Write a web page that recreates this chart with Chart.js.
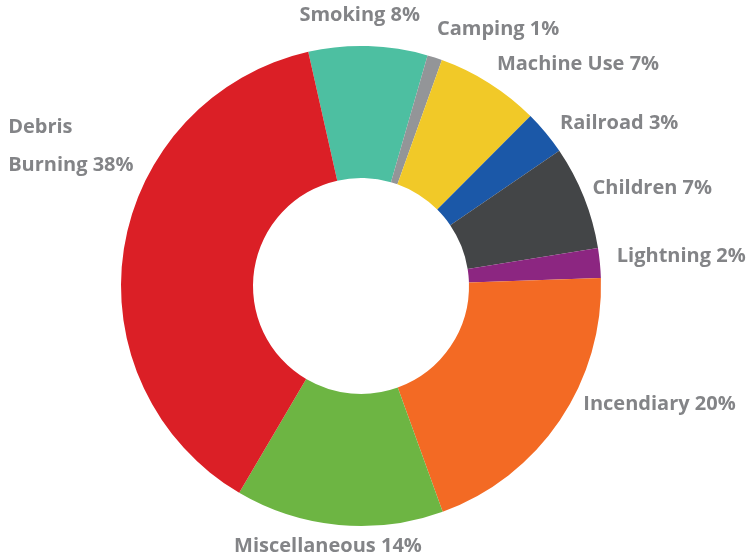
<!DOCTYPE html>
<html>
<head>
<meta charset="utf-8">
<script src="https://cdn.jsdelivr.net/npm/chart.js@4.4.1/dist/chart.umd.min.js"></script>
<style>
    html, body { margin: 0; padding: 0; background: #fff; }
    #wrap { width: 746px; height: 559px; }
</style>
</head>
<body>
<div id="wrap"><canvas id="causesChart" width="746" height="559"></canvas></div>
<script>
// ==================== DATA ====================
const causes = ['Smoking', 'Camping', 'Machine Use', 'Railroad', 'Children', 'Lightning', 'Incendiary', 'Miscellaneous', 'Debris Burning'];
const shares = [8, 1, 7, 3, 7, 2, 20, 14, 38];
const sliceColors = ['#4dbfa1', '#939598', '#f1c928', '#1b58a8', '#434547', '#8c2681', '#f36a24', '#6db543', '#db1f26'];

// label text lines, and where each label sits relative to its slice
const labelLines = [
    ['Smoking 8%'], ['Camping 1%'], ['Machine Use 7%'], ['Railroad 3%'], ['Children 7%'],
    ['Lightning 2%'], ['Incendiary 20%'], ['Miscellaneous 14%'], ['Debris', 'Burning 38%']
];
const labelLayout = [
    { align: 'center', dx: -9, dy: -11 },
    { align: 'left', dx: -4, dy: -9 },
    { align: 'left', dx: -3, dy: -2 },
    { align: 'left', dx: -1, dy: 3 },
    { align: 'left', dx: -10, dy: -2 },
    { align: 'left', dx: -3, dy: -5 },
    { align: 'left', dx: 7, dy: -27 },
    { align: 'center', dx: -9, dy: 1 },
    { align: 'left', dx: -96, dy: -118 }
];

// ==================== LABEL PLUGIN ====================
const outsideLabels = {
    id: 'outsideLabels',
    afterDatasetsDraw(chart) {
        const ctx = chart.ctx;
        const arcs = chart.getDatasetMeta(0).data;
        ctx.save();
        ctx.font = 'bold 20px "Open Sans", sans-serif';
        ctx.fillStyle = '#838487';
        ctx.textBaseline = 'middle';
        arcs.forEach((arc, i) => {
            const mid = (arc.startAngle + arc.endAngle) / 2;
            const r = arc.outerRadius + 20;
            const x = arc.x + Math.cos(mid) * r + labelLayout[i].dx;
            const y = arc.y + Math.sin(mid) * r + labelLayout[i].dy;
            ctx.textAlign = labelLayout[i].align;
            labelLines[i].forEach((line, j) => ctx.fillText(line, x, y + j * 38));
        });
        ctx.restore();
    }
};

// ==================== CHART ====================
new Chart(document.getElementById('causesChart'), {
    type: 'doughnut',
    data: {
        labels: causes,
        datasets: [{
            data: shares,
            backgroundColor: sliceColors,
            borderWidth: 0
        }]
    },
    options: {
        responsive: false,
        animation: false,
        rotation: -12.7,
        cutout: '45%',
        layout: { padding: { left: 121, right: 145, top: 46, bottom: 33 } },
        plugins: {
            legend: { display: false },
            tooltip: { enabled: false }
        }
    },
    plugins: [outsideLabels]
});
</script>
</body>
</html>
